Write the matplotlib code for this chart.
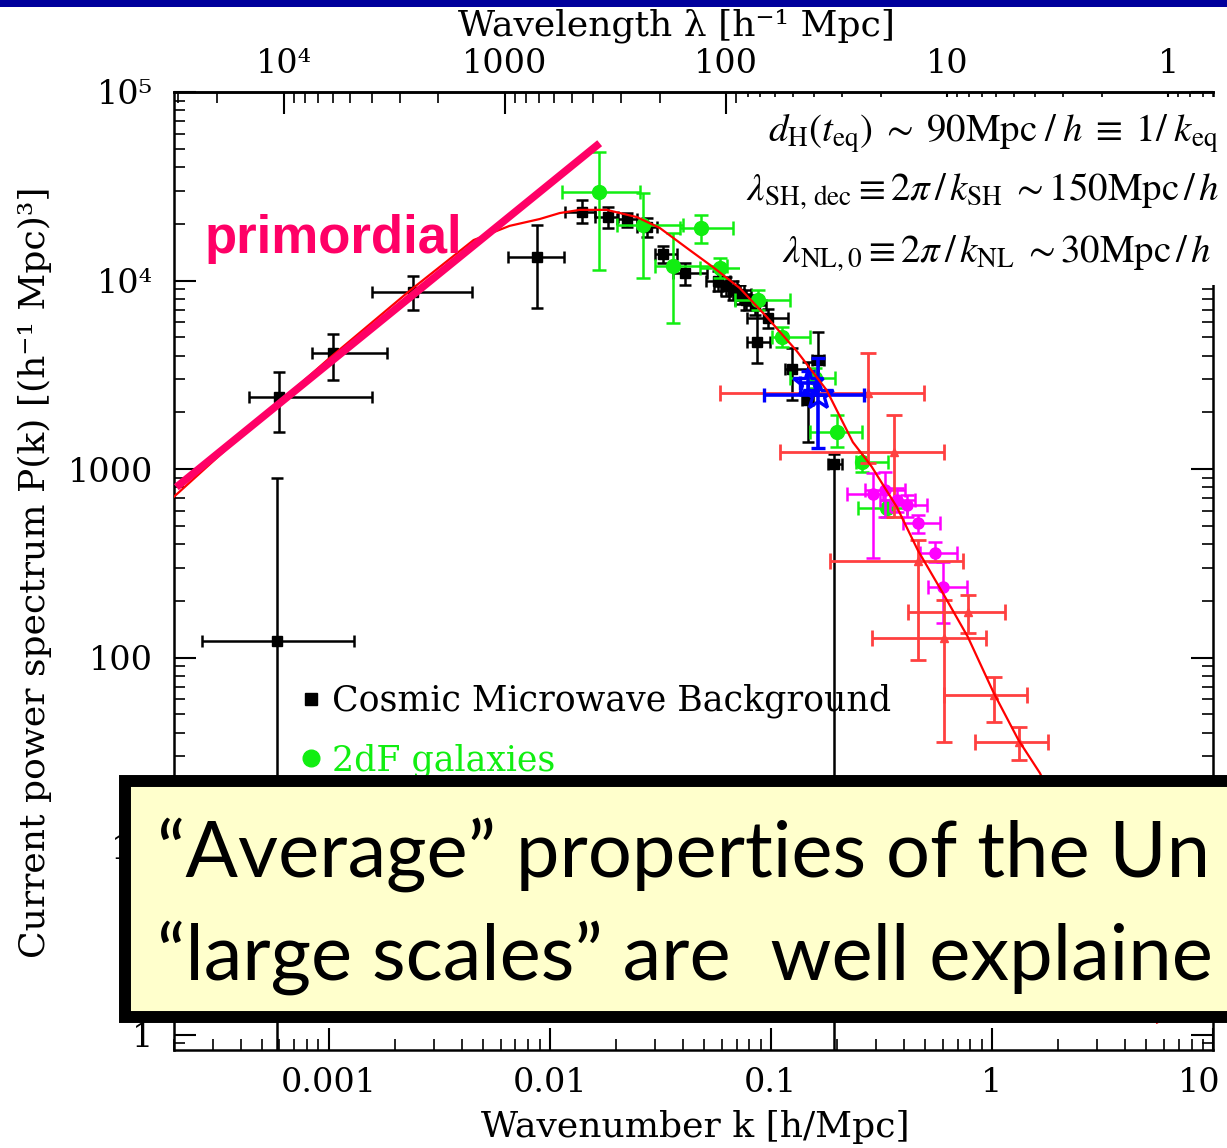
import numpy as np
import matplotlib
matplotlib.use("Agg")
import matplotlib.pyplot as plt
from matplotlib import ticker
from matplotlib.patches import Rectangle
from matplotlib.lines import Line2D
from matplotlib.transforms import ScaledTranslation

# ==========================================================
# Data (k in h/Mpc, P in (Mpc/h)^3)
# ==========================================================

# Cosmic Microwave Background (black)
cmb_k   = [5.82e-4, 6.0e-4, 1.05e-3, 2.40e-3, 8.73e-3, 0.01396, 0.01829, 0.02228, 0.02748, 0.03243, 0.04083,
           0.0575, 0.0625, 0.0672, 0.0724, 0.0771, 0.0847, 0.0969, 0.0865, 0.1245, 0.1633, 0.1469, 0.1928]
cmb_P   = [122, 2410, 4120, 8690, 13300, 23100, 21700, 21200, 19200, 13800, 11000,
           9940, 9360, 8910, 8470, 7880, 7420, 6320, 4720, 3400, 3790, 2320, 1060]
cmb_klo = [2.69e-4, 4.35e-4, 8.38e-4, 1.58e-3, 6.46e-3, 0.01169, 0.0160, 0.02009, 0.02478, 0.02985, 0.03603,
           0.0508, 0.0555, 0.0597, 0.0645, 0.0690, 0.0755, 0.0778, 0.0778, 0.1156, 0.1530, 0.1380, 0.181]
cmb_khi = [1.31e-3, 1.57e-3, 1.83e-3, 4.44e-3, 0.01156, 0.0160, 0.02032, 0.02478, 0.03048, 0.03758, 0.05128,
           0.0652, 0.0705, 0.0760, 0.0815, 0.0865, 0.0950, 0.1194, 0.0989, 0.1469, 0.1745, 0.1560, 0.2094]
cmb_Plo = [0.1, 1570, 2970, 6980, 7150, 20200, 19000, 19200, 17000, 12400, 9460,
           8790, 8300, 7900, 7500, 7000, 6600, 5600, 3650, 2320, 2470, 1390, 0.1]
cmb_Phi = [895, 3270, 5200, 10600, 19700, 26700, 24500, 22800, 21500, 15200, 12400,
           11200, 10500, 10000, 9500, 8900, 8350, 7100, 6970, 4380, 5330, 3700, 1200]

# 2dF galaxies (green)
gal_k   = [0.01667, 0.02636, 0.0482, 0.03603, 0.0588, 0.0873, 0.1122, 0.158, 0.199, 0.258, 0.335]
gal_P   = [29400, 19700, 19000, 11900, 11600, 7880, 5010, 3040, 1570, 1090, 621]
gal_klo = [0.01132, 0.02009, 0.0387, 0.02985, 0.0478, 0.0687, 0.1011, 0.1219, 0.150, 0.2425, 0.248]
gal_khi = [0.02553, 0.0400, 0.0672, 0.0632, 0.0891, 0.1219, 0.150, 0.195, 0.258, 0.338, 0.412]
gal_Plo = [11400, 10300, 15800, 5960, 10300, 7000, 4430, 2700, 1310, 964, 556]
gal_Phi = [48100, 29100, 22200, 17900, 13100, 8900, 5660, 3420, 1940, 1230, 685]

# magenta points
mag_k   = [0.290, 0.328, 0.372, 0.412, 0.462, 0.552, 0.600]
mag_P   = [736, 774, 685, 644, 518, 358, 237]
mag_klo = [0.221, 0.266, 0.311, 0.345, 0.395, 0.472, 0.513]
mag_khi = [0.321, 0.404, 0.449, 0.508, 0.582, 0.695, 0.771]
mag_Plo = [337, 556, 591, 556, 457, 321, 152]
mag_Phi = [953, 964, 793, 728, 570, 410, 321]

# red points
red_k   = [0.275, 0.360, 0.462, 0.778, 0.607, 1.02, 1.32]
red_P   = [2530, 1230, 325, 174, 127, 63.2, 35.6]
red_klo = [0.0588, 0.110, 0.185, 0.417, 0.286, 0.607, 0.838]
red_khi = [0.492, 0.607, 0.740, 1.146, 0.944, 1.44, 1.79]
red_Plo = [1080, 556, 97, 135, 35.6, 45.5, 28.6]
red_Phi = [4120, 1940, 420, 215, 202, 78.9, 42.8]

# blue stars
blue_k   = [0.1633, 0.1469]
blue_P   = [2470, 2860]
blue_klo = [0.0929, 0.135]
blue_khi = [0.2636, 0.160]
blue_Plo = [1290, 2500]
blue_Phi = [3880, 3300]

# model curve
curve_k = [1.99e-4, 4.40e-4, 1.01e-3, 2.35e-3, 4.53e-3, 6.59e-3, 9.02e-3, 0.0111, 0.01367, 0.01812,
           0.0248, 0.0315, 0.0430, 0.0547, 0.0724, 0.0960, 0.131, 0.179, 0.235, 0.286,
           0.372, 0.462, 0.600, 0.778, 1.02, 1.32, 1.65, 5.58]
curve_P = [710, 1650, 3880, 8910, 16400, 19500, 21200, 22800, 23700, 23700,
           21700, 19000, 14500, 11800, 9120, 6400, 4230, 2620, 1390, 1030,
           628, 372, 220, 129, 64.9, 36.5, 24.4, 1.16]

# primordial power law
prim_k = [2.05e-4, 0.01683]
prim_P = [802, 53500]

k_ticks = [0.001, 0.01, 0.1, 1, 10]
k_ticklabels = ["0.001", "0.01", "0.1", "1", "10"]
P_ticks = [1, 10, 100, 1000, 1e4, 1e5]
P_ticklabels = ["1", "10", "100", "1000", "10⁴", "10⁵"]
lam_ticks = [1e4, 1000, 100, 10, 1]
lam_ticklabels = ["10⁴", "1000", "100", "10", "1"]

# ==========================================================
# Figure
# ==========================================================

plt.rcParams['font.family'] = 'DejaVu Serif'
plt.rcParams['mathtext.fontset'] = 'stix'

W, H = 1227, 1148


def fx(x):
    return x / W


def fy(y):
    return 1 - y / H


fig = plt.figure(figsize=(W / 100, H / 100), dpi=100)
ax = fig.add_axes([fx(174), fy(1050), (1213 - 174) / W, (1050 - 92) / H])


def draw_points(k, P, klo, khi, Plo, Phi, **kw):
    k, P = np.array(k), np.array(P)
    xerr = [k - np.array(klo), np.array(khi) - k]
    yerr = [P - np.array(Plo), np.array(Phi) - P]
    ax.errorbar(k, P, xerr=xerr, yerr=yerr, ls='none', **kw)


draw_points(cmb_k, cmb_P, cmb_klo, cmb_khi, cmb_Plo, cmb_Phi,
            marker='s', color='black', ms=6.5, elinewidth=1.8, capsize=4.5, capthick=1.8, zorder=2)
draw_points(gal_k, gal_P, gal_klo, gal_khi, gal_Plo, gal_Phi,
            marker='o', color='#11ee11', ms=10, elinewidth=1.8, capsize=5, capthick=1.8, zorder=2.1)
draw_points(mag_k, mag_P, mag_klo, mag_khi, mag_Plo, mag_Phi,
            marker='o', color='#ff00ff', ms=8, elinewidth=1.8, capsize=5, capthick=1.8, zorder=2.2)
draw_points(red_k, red_P, red_klo, red_khi, red_Plo, red_Phi,
            marker='^', color='#ff4040', ms=5.5, elinewidth=2.0, capsize=5.5, capthick=2.0, zorder=2.3)
draw_points(blue_k, blue_P, blue_klo, blue_khi, blue_Plo, blue_Phi,
            marker='*', color='#0000ff', mfc='none', mec='#0000ff', ms=22, mew=2.4,
            elinewidth=2.6, capsize=5, capthick=2.6, zorder=2.4)

ax.plot(curve_k, curve_P, color='#ff0000', lw=1.6, zorder=3)
ax.plot(prim_k, prim_P, color='#ff0066', lw=5.5, solid_capstyle='butt', zorder=4)

ax.set_xscale('log')
ax.set_yscale('log')
ax.set_xlim(2e-4, 10)
ax.set_ylim(0.83, 1e5)

ax.xaxis.set_major_locator(ticker.FixedLocator(k_ticks))
ax.xaxis.set_major_formatter(ticker.FixedFormatter(k_ticklabels))
ax.yaxis.set_major_locator(ticker.FixedLocator(P_ticks))
ax.yaxis.set_major_formatter(ticker.FixedFormatter(P_ticklabels))
for a in (ax.xaxis, ax.yaxis):
    a.set_minor_locator(ticker.LogLocator(base=10, subs=np.arange(2, 10), numticks=30))
    a.set_minor_formatter(ticker.NullFormatter())

ax.tick_params(which='both', direction='in', top=False, right=True, labelsize=24)
ax.tick_params(which='major', length=16, width=1.5)
ax.tick_params(which='minor', length=8, width=1.2)
ax.tick_params(axis='x', pad=12)
ax.tick_params(axis='y', pad=15)
for s in ax.spines.values():
    s.set_linewidth(1.8)

# the "10" label sits on the right edge: nudge it inside the picture
last = ax.xaxis.get_major_ticks()[-1].label1
last.set_transform(last.get_transform() + ScaledTranslation(-0.14, 0, fig.dpi_scale_trans))


def k_to_lam(k):
    k = np.asarray(k, dtype=float)
    with np.errstate(divide='ignore'):
        return 2 * np.pi / k


sec = ax.secondary_xaxis('top', functions=(k_to_lam, k_to_lam))
sec.set_xticks(lam_ticks, labels=lam_ticklabels)
sec.xaxis.set_minor_locator(ticker.LogLocator(base=10, subs=np.arange(2, 10), numticks=30))
sec.xaxis.set_minor_formatter(ticker.NullFormatter())
sec.tick_params(which='both', direction='in', labelsize=24, pad=8.5)
sec.tick_params(which='major', length=16, width=1.5)
sec.tick_params(which='minor', length=8, width=1.2)
sec.spines['top'].set_linewidth(1.8)

ax.set_xlabel("Wavenumber k [h/Mpc]", fontsize=26, va='center')
ax.xaxis.set_label_coords(0.5014, -0.0804)
ax.set_ylabel("Current power spectrum P(k) [(h⁻¹ Mpc)³]", fontsize=26, va='center')
ax.yaxis.set_label_coords(-0.1338, 0.499)
fig.text(fx(676), fy(26), "Wavelength λ [h⁻¹ Mpc]", fontsize=26, ha='center', va='center')

handles = [Line2D([], [], marker='s', color='black', ls='none', ms=8),
           Line2D([], [], marker='o', color='#11ee11', ls='none', ms=12)]
leg = ax.legend(handles, ["Cosmic Microwave Background", "2dF galaxies"],
                loc='upper left', bbox_to_anchor=(fx(302), fy(684)), bbox_transform=fig.transFigure,
                frameon=False, fontsize=25, handlelength=0.5, handletextpad=0.35,
                labelspacing=0.72, borderpad=0, borderaxespad=0)
leg.get_texts()[1].set_color('#11ee11')

fig.text(fx(205), fy(253), "primordial", fontsize=38, family='Liberation Sans',
         weight='bold', color='#ff0066', va='baseline')

# equations (white background)
fig.add_artist(Rectangle((fx(740), fy(285)), (1240 - 740) / W, (285 - 97) / H,
                         transform=fig.transFigure, facecolor='white', edgecolor='none', zorder=3))
fig.text(fx(768), fy(142),
         r"$d_{\rm H}(t_{\rm eq})\;\sim\;90{\rm Mpc}\;/\;h\;\equiv\;1/\;k_{\rm eq}$",
         fontsize=28, va='baseline', zorder=4)
fig.text(fx(746), fy(200),
         r"$\lambda_{\rm SH,\,dec} \equiv 2\pi\,/\,k_{\rm SH}\;\sim 150{\rm Mpc}\,/\,h$",
         fontsize=28, va='baseline', zorder=4)
fig.text(fx(782), fy(262),
         r"$\lambda_{\rm NL,0} \equiv 2\pi\,/\,k_{\rm NL}\;\sim 30{\rm Mpc}\,/\,h$",
         fontsize=28, va='baseline', zorder=4)

# yellow caption box (runs off the right edge, as on the slide)
fig.add_artist(Rectangle((fx(125), fy(1017)), (1260 - 125) / W, (1017 - 781) / H,
                         transform=fig.transFigure, facecolor='#ffffcc', edgecolor='black',
                         linewidth=8.6, zorder=6))
fig.text(fx(157), fy(877), "“Average” properties of the Un", fontsize=56,
         family='Lato', va='baseline', zorder=7)
fig.text(fx(157), fy(980), "“large scales” are  well explaine", fontsize=56,
         family='Lato', va='baseline', zorder=7)

# dark blue slide bar on top
fig.add_artist(Rectangle((0, fy(7)), 1, 7 / H, transform=fig.transFigure,
                         facecolor='#00009c', edgecolor='none', zorder=10))

fig.savefig("out.png", dpi=100)
